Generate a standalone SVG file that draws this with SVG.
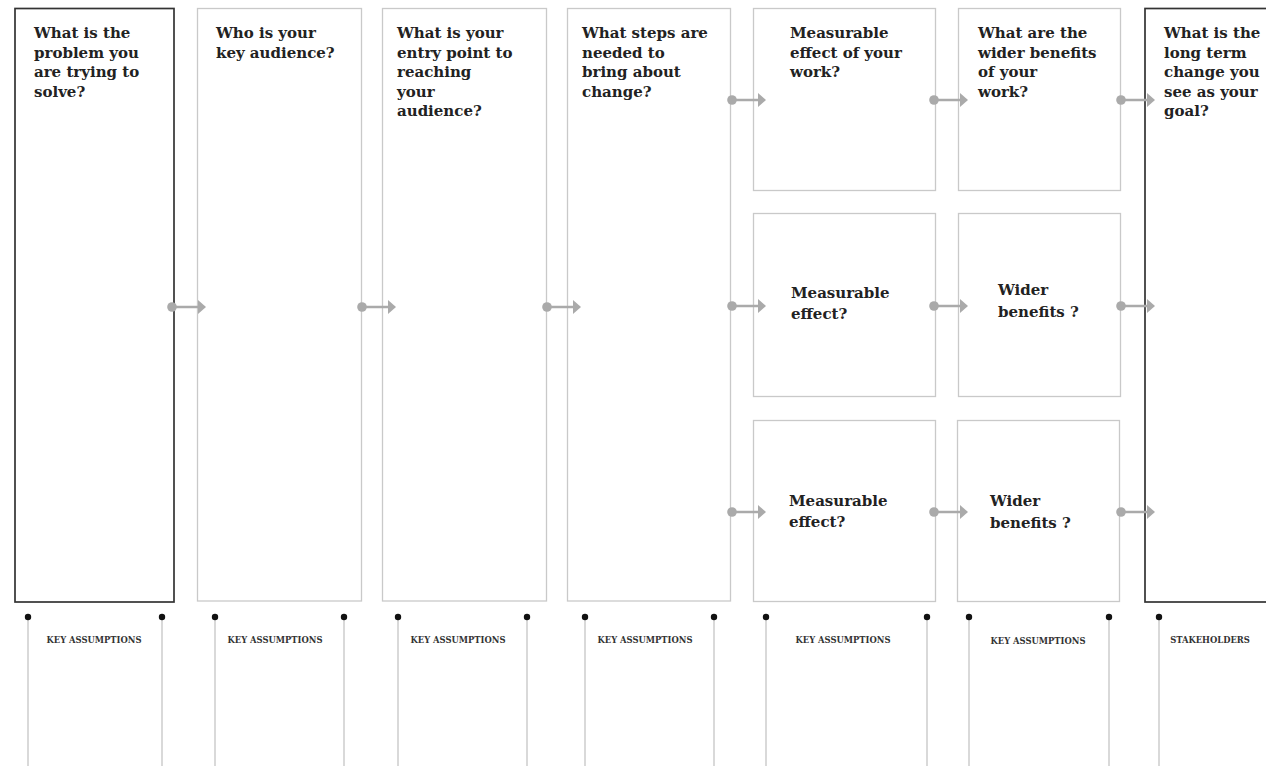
<svg xmlns="http://www.w3.org/2000/svg" width="1266" height="766" viewBox="0 0 1266 766">
<style>
.bg{fill:#fff}
.dark{fill:#fff;stroke:#333;stroke-width:1.7}
.light{fill:#fff;stroke:#c9c9c9;stroke-width:1.3}
.q{font-family:"DejaVu Serif","Liberation Serif",serif;font-weight:bold;font-size:15px;fill:#222}
.lab{font-family:"DejaVu Serif","Liberation Serif",serif;font-weight:bold;font-size:8.4px;fill:#333;text-anchor:middle}
.cl{stroke:#aaa;stroke-width:2.5;fill:none}
.cd{fill:#aaa}
.vl{stroke:#ccc;stroke-width:1.5}
.bd{fill:#111}
</style>
<defs>
<g id="arr"><circle cx="0" cy="0" r="4.8" class="cd"/><line x1="0" y1="0" x2="26" y2="0" class="cl"/><polygon points="26,-7 34,0 26,7" class="cd"/></g>
</defs>
<rect class="bg" x="0" y="0" width="1266" height="766"/>

<g id="node-problem">
<rect class="dark" x="15" y="8.5" width="159" height="593.5"/>
<text class="q" x="34"><tspan x="34" y="38">What is the</tspan><tspan x="34" y="57.5">problem you</tspan><tspan x="34" y="77">are trying to</tspan><tspan x="34" y="96.5">solve?</tspan></text>
</g>
<g id="node-audience">
<rect class="light" x="197.5" y="8.5" width="164" height="592.5"/>
<text class="q"><tspan x="216" y="38">Who is your</tspan><tspan x="216" y="57.5">key audience?</tspan></text>
</g>
<g id="node-entry">
<rect class="light" x="382.5" y="8.5" width="164" height="592.5"/>
<text class="q"><tspan x="397" y="38">What is your</tspan><tspan x="397" y="57.5">entry point to</tspan><tspan x="397" y="77">reaching</tspan><tspan x="397" y="96.5">your</tspan><tspan x="397" y="116">audience?</tspan></text>
</g>
<g id="node-steps">
<rect class="light" x="567.5" y="8.5" width="163" height="592.5"/>
<text class="q"><tspan x="582" y="38">What steps are</tspan><tspan x="582" y="57.5">needed to</tspan><tspan x="582" y="77">bring about</tspan><tspan x="582" y="96.5">change?</tspan></text>
</g>
<g id="node-effect-1">
<rect class="light" x="753.5" y="8.5" width="182" height="182"/>
<text class="q"><tspan x="790" y="38">Measurable</tspan><tspan x="790" y="57.5">effect of your</tspan><tspan x="790" y="77">work?</tspan></text>
</g>
<g id="node-effect-2">
<rect class="light" x="753.5" y="213.5" width="182" height="183"/>
<text class="q"><tspan x="791" y="298">Measurable</tspan><tspan x="791" y="319">effect?</tspan></text>
</g>
<g id="node-effect-3">
<rect class="light" x="753.5" y="420.5" width="182" height="181"/>
<text class="q"><tspan x="789" y="506">Measurable</tspan><tspan x="789" y="527">effect?</tspan></text>
</g>
<g id="node-benefits-1">
<rect class="light" x="958.5" y="8.5" width="162" height="182"/>
<text class="q"><tspan x="978" y="38">What are the</tspan><tspan x="978" y="57.5">wider benefits</tspan><tspan x="978" y="77">of your</tspan><tspan x="978" y="96.5">work?</tspan></text>
</g>
<g id="node-benefits-2">
<rect class="light" x="958.5" y="213.5" width="162" height="183"/>
<text class="q"><tspan x="998" y="295">Wider</tspan><tspan x="998" y="317">benefits ?</tspan></text>
</g>
<g id="node-benefits-3">
<rect class="light" x="957.5" y="420.5" width="162" height="181"/>
<text class="q"><tspan x="990" y="506">Wider</tspan><tspan x="990" y="528">benefits ?</tspan></text>
</g>
<g id="node-goal">
<rect class="dark" x="1145" y="8.5" width="130" height="593.5"/>
<text class="q"><tspan x="1164" y="38">What is the</tspan><tspan x="1164" y="57.5">long term</tspan><tspan x="1164" y="77">change you</tspan><tspan x="1164" y="96.5">see as your</tspan><tspan x="1164" y="116">goal?</tspan></text>
</g>

<g id="connectors">
<use href="#arr" x="172" y="307"/>
<use href="#arr" x="362" y="307"/>
<use href="#arr" x="547" y="307"/>
<use href="#arr" x="732" y="100"/>
<use href="#arr" x="732" y="306"/>
<use href="#arr" x="732" y="512"/>
<use href="#arr" x="934" y="100"/>
<use href="#arr" x="934" y="306"/>
<use href="#arr" x="934" y="512"/>
<use href="#arr" x="1121" y="100"/>
<use href="#arr" x="1121" y="306"/>
<use href="#arr" x="1121" y="512"/>
</g>

<g id="assumptions">
<g class="vl">
<line x1="28" y1="617" x2="28" y2="766"/><line x1="162" y1="617" x2="162" y2="766"/>
<line x1="215" y1="617" x2="215" y2="766"/><line x1="344" y1="617" x2="344" y2="766"/>
<line x1="398" y1="617" x2="398" y2="766"/><line x1="527" y1="617" x2="527" y2="766"/>
<line x1="585" y1="617" x2="585" y2="766"/><line x1="714" y1="617" x2="714" y2="766"/>
<line x1="766" y1="617" x2="766" y2="766"/><line x1="927" y1="617" x2="927" y2="766"/>
<line x1="969" y1="617" x2="969" y2="766"/><line x1="1109" y1="617" x2="1109" y2="766"/>
<line x1="1159" y1="617" x2="1159" y2="766"/>
</g>
<g class="bd">
<circle cx="28" cy="617" r="3.2"/><circle cx="162" cy="617" r="3.2"/>
<circle cx="215" cy="617" r="3.2"/><circle cx="344" cy="617" r="3.2"/>
<circle cx="398" cy="617" r="3.2"/><circle cx="527" cy="617" r="3.2"/>
<circle cx="585" cy="617" r="3.2"/><circle cx="714" cy="617" r="3.2"/>
<circle cx="766" cy="617" r="3.2"/><circle cx="927" cy="617" r="3.2"/>
<circle cx="969" cy="617" r="3.2"/><circle cx="1109" cy="617" r="3.2"/>
<circle cx="1159" cy="617" r="3.2"/>
</g>
<text class="lab" x="94" y="643">KEY ASSUMPTIONS</text>
<text class="lab" x="275" y="643">KEY ASSUMPTIONS</text>
<text class="lab" x="458" y="643">KEY ASSUMPTIONS</text>
<text class="lab" x="645" y="643">KEY ASSUMPTIONS</text>
<text class="lab" x="843" y="643">KEY ASSUMPTIONS</text>
<text class="lab" x="1038" y="644">KEY ASSUMPTIONS</text>
<text class="lab" x="1210" y="643">STAKEHOLDERS</text>
</g>
</svg>
